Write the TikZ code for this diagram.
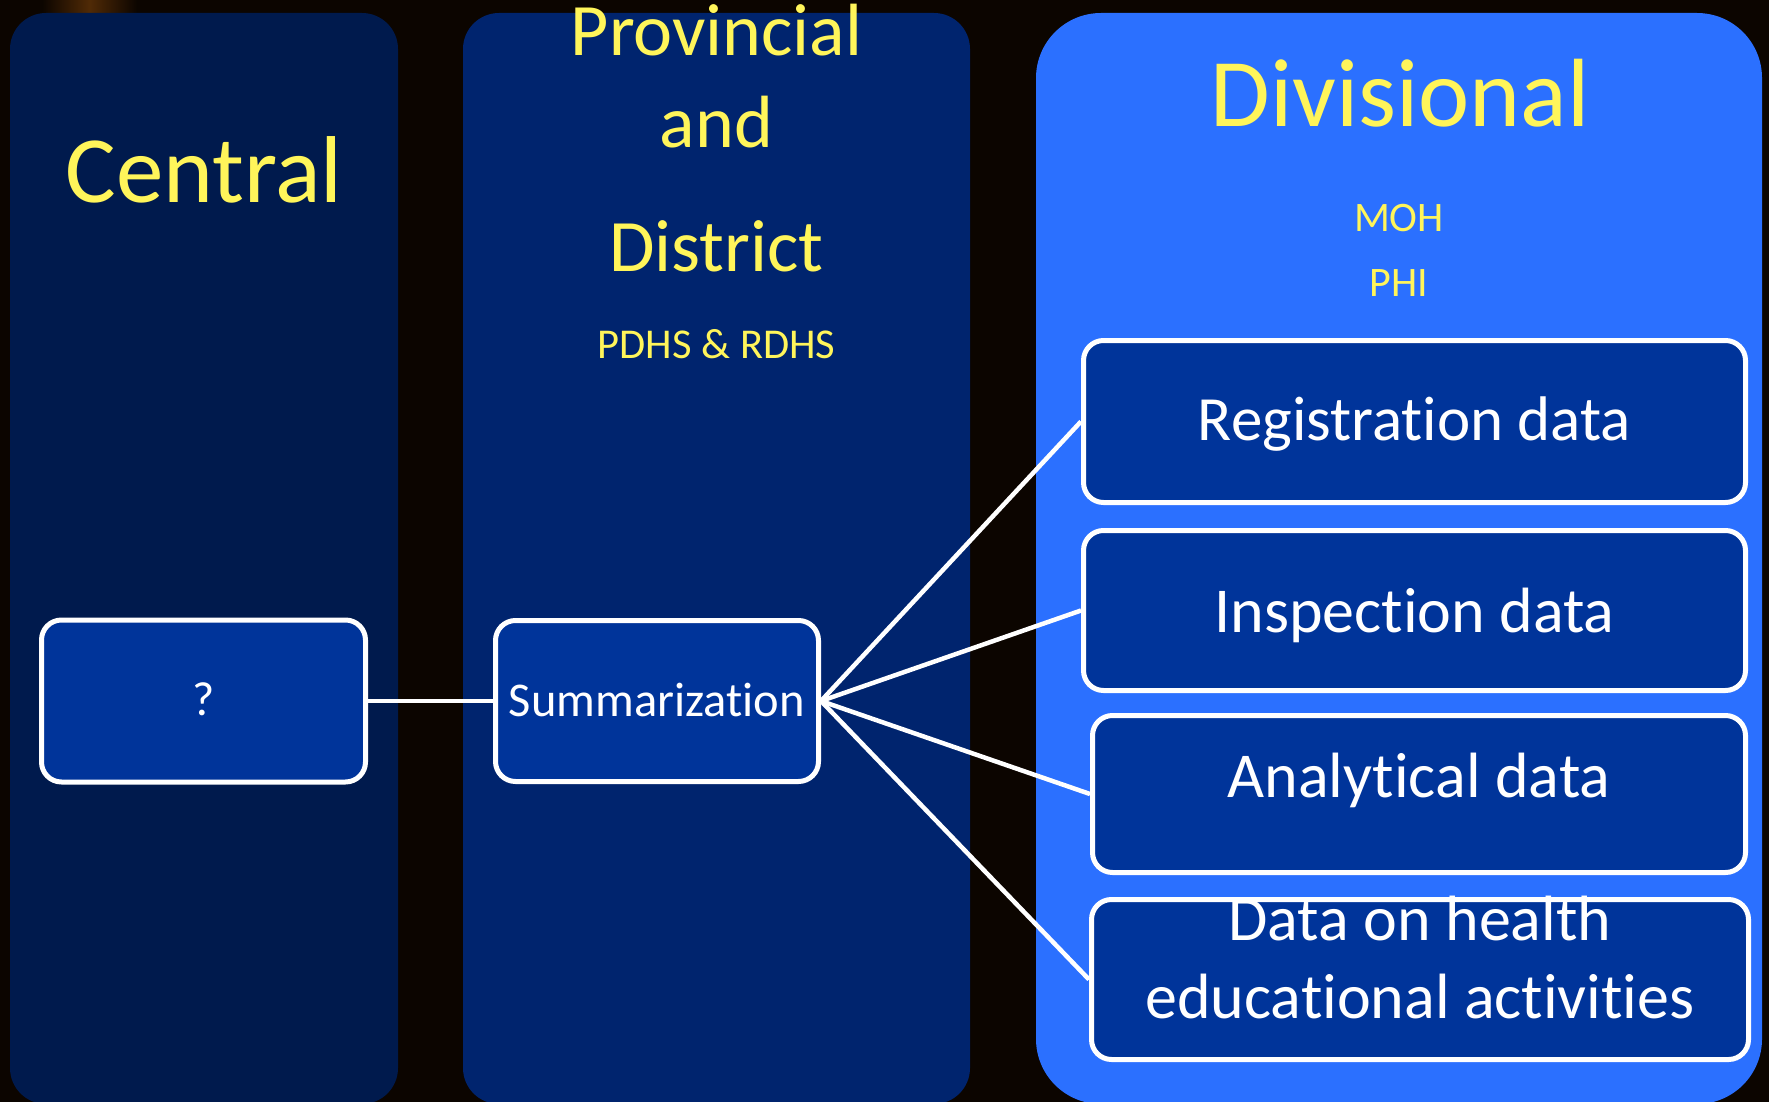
\documentclass[tikz,border=0pt]{standalone}
\usepackage{fontspec}
\setmainfont{Carlito}[Ligatures={NoCommon}]
\definecolor{bgc}{RGB}{12,5,0}
\definecolor{colcentral}{RGB}{0,26,77}
\definecolor{colprov}{RGB}{0,36,110}
\definecolor{coldiv}{RGB}{43,112,255}
\definecolor{boxfill}{RGB}{0,52,154}
\definecolor{ytext}{RGB}{255,245,90}
\definecolor{brownish}{RGB}{80,42,6}
\begin{document}
\begin{tikzpicture}[x=1pt,y=-1pt,
  column/.style={rounded corners=36pt},
  databox/.style={draw=white, line width=5pt, fill=boxfill, rounded corners=20pt, inner sep=0pt},
  conn/.style={draw=white, line width=4.5pt},
  head/.style={text=ytext, anchor=base, inner sep=0pt},
  boxtext/.style={text=white, anchor=base, inner sep=0pt}
]
\fill[bgc] (0,0) rectangle (1769,1102);
\useasboundingbox (0,0) rectangle (1769,1102);
% background artifact
\shade[left color=bgc, right color=bgc, middle color=brownish] (42,0) rectangle (137,13);

% columns
\fill[colcentral, column] (10,13) rectangle (398,1104);
\fill[colprov, column] (463,13) rectangle (970,1104);
\fill[coldiv, rounded corners=65pt] (1036,13) rectangle (1762,1104);

% headings
\node[head, font=\fontsize{95}{114}\selectfont] (hcentral) at (204,203) {Central};
\node[head, font=\fontsize{74}{88}\selectfont] (hprov1) at (716.5,56) {Provincial};
\node[head, font=\fontsize{74}{88}\selectfont] (hprov2) at (716.5,148) {and};
\node[head, font=\fontsize{74}{88}\selectfont] (hprov3) at (716.5,271) {District};
\node[head, font=\fontsize{42.5}{50}\selectfont] (hpdhs) at (716.5,358) {PDHS \& RDHS};
\node[head, font=\fontsize{97}{116}\selectfont] (hdiv) at (1400,127) {Divisional};
\node[head, font=\fontsize{42}{50}\selectfont] (hmoh) at (1399,231) {MOH};
\node[head, font=\fontsize{42}{50}\selectfont] (hphi) at (1399,296) {PHI};

% boxes
\node[databox, minimum width=324pt, minimum height=162pt] (q) at (203.5,701) {};
\node[databox, minimum width=323pt, minimum height=161pt] (summ) at (657,701) {};
\node[databox, minimum width=662pt, minimum height=162pt] (reg) at (1414.5,421.5) {};
\node[databox, minimum width=662pt, minimum height=160pt] (insp) at (1414.5,610.5) {};
\node[databox, minimum width=653pt, minimum height=157pt] (anal) at (1419,794) {};
\node[databox, minimum width=657pt, minimum height=160pt] (edu) at (1420,979.5) {};

% box texts
\node[boxtext, font=\fontsize{48}{58}\selectfont] (tq) at (203.5,715) {?};
\node[boxtext, font=\fontsize{48.5}{58}\selectfont] (tsumm) at (657,716) {Summarization};
\node[boxtext, font=\fontsize{63}{75}\selectfont] (treg) at (1414.5,440) {Registration data};
\node[boxtext, font=\fontsize{64}{76}\selectfont] (tinsp) at (1414.5,632) {Inspection data};
\node[boxtext, font=\fontsize{64}{76}\selectfont] (tanal) at (1419,797) {Analytical data};
\node[boxtext, font=\fontsize{64}{76}\selectfont] (tedu1) at (1420,940) {Data on health};
\node[boxtext, font=\fontsize{64}{76}\selectfont] (tedu2) at (1420,1018) {educational activities};

% connectors
\draw[conn] (q.east) -- (summ.west);
\draw[conn] (summ.east) -- (reg.west);
\draw[conn] (summ.east) -- (insp.west);
\draw[conn] (summ.east) -- (anal.west);
\draw[conn] (summ.east) -- (edu.west);
\end{tikzpicture}
\end{document}
